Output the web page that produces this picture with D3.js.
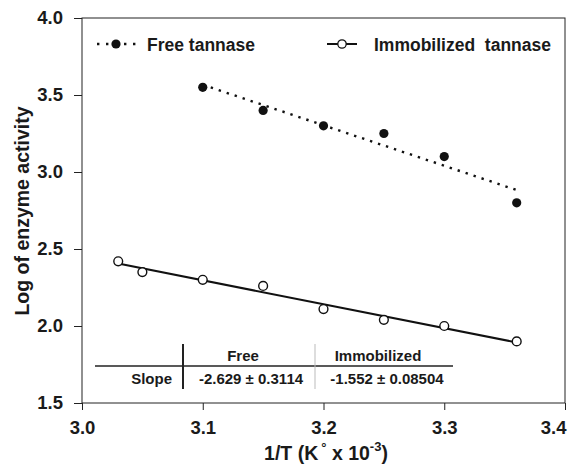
<!DOCTYPE html>
<html><head><meta charset="utf-8">
<script src="https://cdn.jsdelivr.net/npm/d3@7"></script>
<style>body{margin:0;background:#fff}text{font-family:Arial,"Liberation Sans",sans-serif;font-weight:bold;fill:#1a1a1a}</style>
</head><body><svg id="c" width="575" height="465"></svg>
<script>
const freeX = [3.10, 3.15, 3.20, 3.25, 3.30, 3.36];
const freeY = [3.55, 3.40, 3.30, 3.25, 3.10, 2.80];
const immX = [3.03, 3.05, 3.10, 3.15, 3.20, 3.25, 3.30, 3.36];
const immY = [2.42, 2.35, 2.30, 2.26, 2.11, 2.04, 2.00, 1.90];
const xTicks = [3.0, 3.1, 3.2, 3.3, 3.4];
const yTicks = [1.5, 2.0, 2.5, 3.0, 3.5, 4.0];
const seriesNames = ["Free tannase", "Immobilized  tannase"];
const tableCols = ["Free", "Immobilized"];
const tableRow = "Slope";
const tableVals = ["-2.629 \u00b1 0.3114", "-1.552 \u00b1 0.08504"];

const svg = d3.select("#c");
const L = 82, R = 565, T = 18, B = 403;
const x = d3.scaleLinear().domain([3.0, 3.4]).range([L, R]);
const y = d3.scaleLinear().domain([1.5, 4.0]).range([B, T]);

function fit(xs, ys) {
  const mx = d3.mean(xs), my = d3.mean(ys);
  let sxy = 0, sxx = 0;
  xs.forEach((v, i) => { sxy += (v - mx) * (ys[i] - my); sxx += (v - mx) ** 2; });
  const b = sxy / sxx, a = my - b * mx;
  const ext = d3.extent(xs);
  return ext.map(v => [v, a + b * v]);
}

// frame
svg.append("rect").attr("x", L).attr("y", T).attr("width", R - L).attr("height", B - T)
  .attr("fill", "none").attr("stroke", "#222").attr("stroke-width", 1);

const xa = svg.append("g").attr("transform", `translate(0,${B})`)
  .call(d3.axisBottom(x).tickValues(xTicks).tickFormat(d3.format(".1f")).tickSize(7).tickPadding(11));
const ya = svg.append("g").attr("transform", `translate(${L},0)`)
  .call(d3.axisLeft(y).tickValues(yTicks).tickFormat(d3.format(".1f")).tickSize(8).tickPadding(11));
[xa, ya].forEach(g => {
  g.select(".domain").remove();
  g.selectAll("line").attr("stroke", "#222");
  g.selectAll("text").style("font-size", "18.5px").style("font-weight", "bold")
    .style("font-family", "Arial, 'Liberation Sans', sans-serif").attr("fill", "#1a1a1a");
});
// last x label is pushed inside the picture, as in the reference
xa.selectAll(".tick").filter(d => d === 3.4).select("text").attr("text-anchor", "end").attr("x", 1);

const line = d3.line().x(d => x(d[0])).y(d => y(d[1]));
svg.append("path").attr("d", line(fit(freeX, freeY))).attr("fill", "none")
  .attr("stroke", "#111").attr("stroke-width", 2.4).attr("stroke-dasharray", "2.4,6");
svg.append("path").attr("d", line(fit(immX, immY))).attr("fill", "none")
  .attr("stroke", "#111").attr("stroke-width", 2);

svg.selectAll(".f").data(freeX).enter().append("circle")
  .attr("cx", d => x(d)).attr("cy", (d, i) => y(freeY[i])).attr("r", 4.6).attr("fill", "#111");
svg.selectAll(".m").data(immX).enter().append("circle")
  .attr("cx", d => x(d)).attr("cy", (d, i) => y(immY[i])).attr("r", 4.4)
  .attr("fill", "#fff").attr("stroke", "#111").attr("stroke-width", 1.4);

// legend
svg.append("line").attr("x1", 97).attr("x2", 139).attr("y1", 44).attr("y2", 44)
  .attr("stroke", "#111").attr("stroke-width", 2.4).attr("stroke-dasharray", "2.4,6.6");
svg.append("circle").attr("cx", 116).attr("cy", 44).attr("r", 4.6).attr("fill", "#111");
svg.append("text").attr("x", 147).attr("y", 51).style("font-size", "17.5px").attr("xml:space","preserve").text(seriesNames[0]);
svg.append("line").attr("x1", 327).attr("x2", 357).attr("y1", 44).attr("y2", 44)
  .attr("stroke", "#111").attr("stroke-width", 2);
svg.append("circle").attr("cx", 342).attr("cy", 44).attr("r", 4.2).attr("fill", "#fff")
  .attr("stroke", "#111").attr("stroke-width", 1.3);
svg.append("text").attr("x", 374).attr("y", 51).style("font-size", "17.5px").attr("xml:space","preserve").text(seriesNames[1]);

// table
svg.append("line").attr("x1", 95).attr("x2", 453).attr("y1", 366).attr("y2", 366).attr("stroke", "#222").attr("stroke-width", 1.6);
svg.append("line").attr("x1", 183).attr("x2", 183).attr("y1", 344).attr("y2", 389).attr("stroke", "#222").attr("stroke-width", 2);
svg.append("line").attr("x1", 315).attr("x2", 315).attr("y1", 344).attr("y2", 389).attr("stroke", "#bbb").attr("stroke-width", 1);
const colC = [243, 378], valC = [251, 387];
tableCols.forEach((c, i) => svg.append("text").attr("x", colC[i]).attr("y", 361).attr("text-anchor", "middle").style("font-size", "15px").text(c));
svg.append("text").attr("x", 172).attr("y", 384).attr("text-anchor", "end").style("font-size", "15px").text(tableRow);
tableVals.forEach((v, i) => svg.append("text").attr("x", valC[i]).attr("y", 384).attr("text-anchor", "middle").style("font-size", "15px").text(v));

// axis titles
const xt = svg.append("text").attr("x", 326).attr("y", 460).attr("text-anchor", "middle").style("font-size", "19.5px");
xt.append("tspan").text("1/T (K");
xt.append("tspan").attr("dx", 3).attr("dy", -8).style("font-size", "13px").text("\u00b0");
xt.append("tspan").attr("dy", 8).text(" x 10");
xt.append("tspan").attr("dy", -9).style("font-size", "13px").text("-3");
xt.append("tspan").attr("dy", 9).text(")");
svg.append("text").attr("transform", "translate(29,211) rotate(-90)").attr("text-anchor", "middle")
  .style("font-size", "19.5px").text("Log of enzyme activity");
</script></body></html>
